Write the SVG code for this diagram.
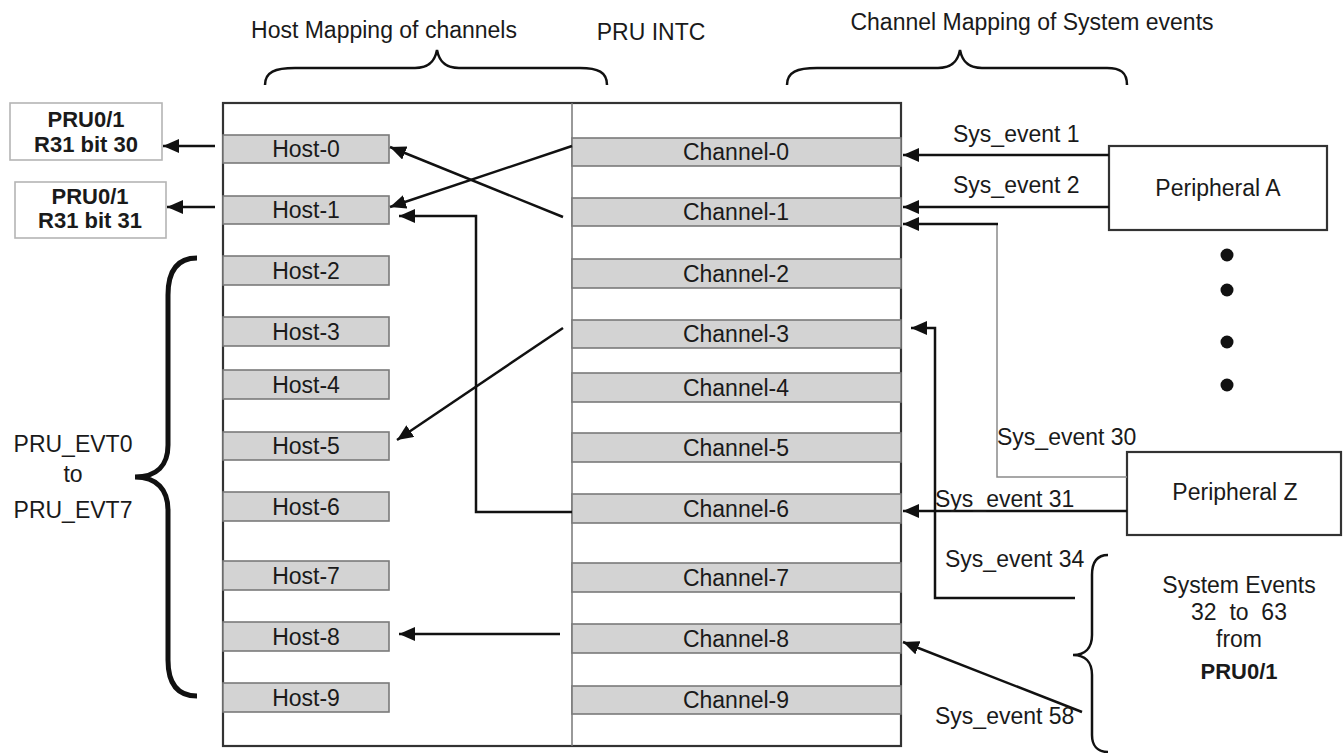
<svg xmlns="http://www.w3.org/2000/svg" width="1343" height="753" viewBox="0 0 1343 753">
<style>
text{font-family:"Liberation Sans",Arial,sans-serif;font-size:23px;fill:#1a1a1a}
.c{text-anchor:middle}
.b{font-weight:bold;font-size:22px}
.slot{fill:#d3d3d3;stroke:#7a7a7a;stroke-width:1.6}
.box{fill:#fff;stroke:#333;stroke-width:2.2}
.pbox{fill:#fff;stroke:#b5b5b5;stroke-width:1.6}
.brace{fill:none;stroke:#111;stroke-width:2.5}
.arr{fill:none;stroke:#111;stroke-width:2.5;marker-end:url(#ah)}
.thin{fill:none;stroke:#8a8a8a;stroke-width:1.5}
</style>
<defs>
<marker id="ah" markerUnits="userSpaceOnUse" viewBox="0 0 16 14" markerWidth="16" markerHeight="14" refX="16" refY="7" orient="auto">
<path d="M0,0 L16,7 L0,14 z" fill="#111"/>
</marker>
</defs>
<rect width="1343" height="753" fill="#fff"/>

<g id="titles">
<text class="c" x="384" y="38">Host Mapping of channels</text>
<text class="c" x="651" y="40">PRU INTC</text>
<text class="c" x="1032" y="30">Channel Mapping of System events</text>
<path class="brace" d="M265,85 C265,72 275,68 295,68 L415,68 C430,68 435,60 437,50 C439,60 444,68 459,68 L580,68 C598,68 607,72 607,85"/>
<path class="brace" d="M787,85 C787,72 797,68 817,68 L938,68 C953,68 958,60 960,50 C962,60 967,68 982,68 L1107,68 C1120,68 1127,72 1127,85"/>
</g>

<g id="pru-intc">
<rect class="box" x="223" y="103" width="678" height="643"/>
<line x1="572" y1="103" x2="572" y2="746" stroke="#777" stroke-width="1.5"/>
</g>

<g id="hosts">
<g id="host-0"><rect class="slot" x="223" y="135" width="166" height="28"/><text class="c" x="306" y="157">Host-0</text></g>
<g id="host-1"><rect class="slot" x="223" y="196" width="166" height="28"/><text class="c" x="306" y="218">Host-1</text></g>
<g id="host-2"><rect class="slot" x="223" y="256" width="166" height="29"/><text class="c" x="306" y="279">Host-2</text></g>
<g id="host-3"><rect class="slot" x="223" y="317" width="166" height="29"/><text class="c" x="306" y="340">Host-3</text></g>
<g id="host-4"><rect class="slot" x="223" y="370" width="166" height="29"/><text class="c" x="306" y="393">Host-4</text></g>
<g id="host-5"><rect class="slot" x="223" y="432" width="166" height="28"/><text class="c" x="306" y="454">Host-5</text></g>
<g id="host-6"><rect class="slot" x="223" y="492" width="166" height="29"/><text class="c" x="306" y="515">Host-6</text></g>
<g id="host-7"><rect class="slot" x="223" y="561" width="166" height="29"/><text class="c" x="306" y="584">Host-7</text></g>
<g id="host-8"><rect class="slot" x="223" y="622" width="166" height="29"/><text class="c" x="306" y="645">Host-8</text></g>
<g id="host-9"><rect class="slot" x="223" y="683" width="166" height="29"/><text class="c" x="306" y="706">Host-9</text></g>
</g>

<g id="channels">
<g id="channel-0"><rect class="slot" x="572" y="138" width="329" height="28"/><text class="c" x="736" y="160">Channel-0</text></g>
<g id="channel-1"><rect class="slot" x="572" y="198" width="329" height="28"/><text class="c" x="736" y="220">Channel-1</text></g>
<g id="channel-2"><rect class="slot" x="572" y="259" width="329" height="29"/><text class="c" x="736" y="282">Channel-2</text></g>
<g id="channel-3"><rect class="slot" x="572" y="320" width="329" height="28"/><text class="c" x="736" y="342">Channel-3</text></g>
<g id="channel-4"><rect class="slot" x="572" y="373" width="329" height="29"/><text class="c" x="736" y="396">Channel-4</text></g>
<g id="channel-5"><rect class="slot" x="572" y="433" width="329" height="29"/><text class="c" x="736" y="456">Channel-5</text></g>
<g id="channel-6"><rect class="slot" x="572" y="494" width="329" height="29"/><text class="c" x="736" y="517">Channel-6</text></g>
<g id="channel-7"><rect class="slot" x="572" y="563" width="329" height="29"/><text class="c" x="736" y="586">Channel-7</text></g>
<g id="channel-8"><rect class="slot" x="572" y="624" width="329" height="29"/><text class="c" x="736" y="647">Channel-8</text></g>
<g id="channel-9"><rect class="slot" x="572" y="686" width="329" height="28"/><text class="c" x="736" y="708">Channel-9</text></g>
</g>

<g id="pru-r31-30">
<rect class="pbox" x="10" y="103" width="152" height="57"/>
<text class="c b" x="86" y="127">PRU0/1</text>
<text class="c b" x="86" y="152">R31 bit 30</text>
</g>
<g id="pru-r31-31">
<rect class="pbox" x="15" y="182" width="151" height="56"/>
<text class="c b" x="90" y="204">PRU0/1</text>
<text class="c b" x="90" y="228">R31 bit 31</text>
</g>

<g id="pru-evt">
<path d="M197,258 C178,258 168,270 168,295 L168,445 C168,465 157,477 135,477 C157,477 168,490 168,510 L168,660 C168,684 178,696 197,696" fill="none" stroke="#111" stroke-width="5"/>
<text class="c" x="73" y="452">PRU_EVT0</text>
<text class="c" x="73" y="482">to</text>
<text class="c" x="73" y="518">PRU_EVT7</text>
</g>

<g id="peripheral-a">
<rect class="box" x="1109" y="146" width="218" height="84"/>
<text class="c" x="1218" y="196">Peripheral A</text>
</g>

<g id="ellipsis">
<circle cx="1227" cy="255" r="6.5" fill="#111"/>
<circle cx="1227" cy="290" r="6.5" fill="#111"/>
<circle cx="1227" cy="342" r="6.5" fill="#111"/>
<circle cx="1227" cy="385" r="6.5" fill="#111"/>
</g>

<g id="peripheral-z">
<rect class="box" x="1127" y="452" width="214" height="83"/>
<text class="c" x="1235" y="500">Peripheral Z</text>
</g>

<g id="system-events">
<path class="brace" d="M1108,555 C1097,555 1092,562 1092,575 L1092,635 C1092,648 1085,655 1073,655 C1085,655 1092,662 1092,675 L1092,735 C1092,745 1097,752 1108,752"/>
<text class="c" x="1239" y="593">System Events</text>
<text class="c" x="1239" y="620" style="white-space:pre">32  to  63</text>
<text class="c" x="1239" y="647">from</text>
<text class="c b" x="1239" y="679">PRU0/1</text>
</g>

<g id="connectors">
<line class="arr" x1="215" y1="146" x2="163" y2="146"/>
<line class="arr" x1="215" y1="207" x2="167" y2="207"/>
<line class="arr" x1="572" y1="146" x2="390" y2="207"/>
<line class="arr" x1="563" y1="217" x2="390" y2="147"/>
<polyline class="arr" points="572,512 476,512 476,216 399,216"/>
<line class="arr" x1="563" y1="328" x2="397" y2="440"/>
<line class="arr" x1="560" y1="634" x2="399" y2="634"/>
<line class="arr" x1="1109" y1="155" x2="903" y2="155"/>
<line class="arr" x1="1109" y1="207" x2="903" y2="207"/>
<polyline class="thin" points="1127,477 997,477 997,224"/>
<line class="arr" x1="998" y1="224" x2="903" y2="224"/>
<line class="arr" x1="1127" y1="511" x2="903" y2="511"/>
<polyline class="arr" points="1075,598 935,598 935,328 911,328"/>
<line class="arr" x1="1082" y1="712" x2="903" y2="642"/>
</g>

<g id="connector-labels">
<text x="953" y="142">Sys_event 1</text>
<text x="953" y="193">Sys_event 2</text>
<text x="997" y="445">Sys_event 30</text>
<text x="935" y="507">Sys_event 31</text>
<text x="945" y="567">Sys_event 34</text>
<text x="935" y="724">Sys_event 58</text>
</g>
</svg>
